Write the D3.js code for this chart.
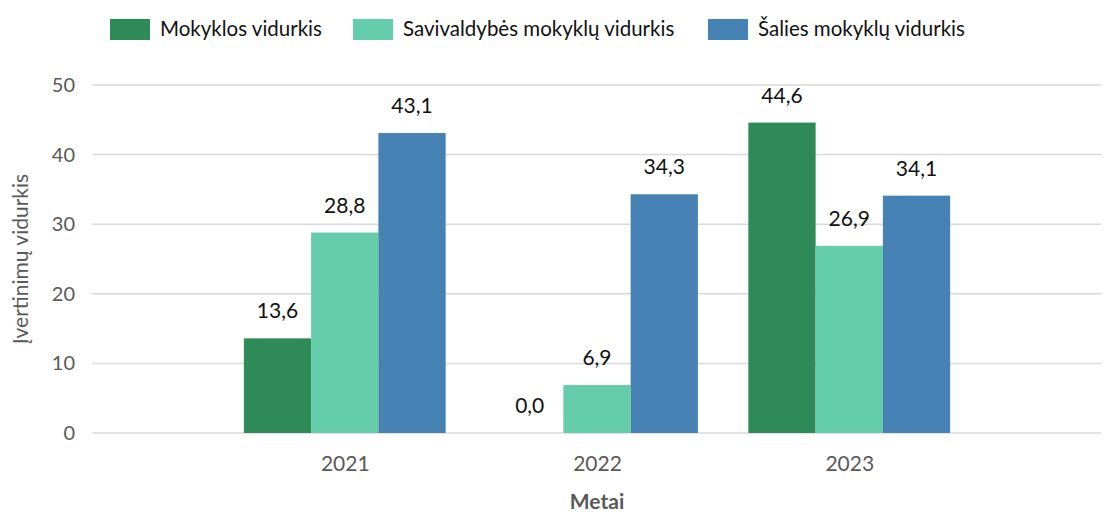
<!DOCTYPE html>
<html>
<head>
<meta charset="utf-8">
<script src="https://cdn.jsdelivr.net/npm/d3@7"></script>
<style>
  body { margin: 0; background: #fff; }
  text { font-family: Lato, "Open Sans", sans-serif; }
</style>
</head>
<body>
<script>
// ---------- data ----------
const years = ["2021", "2022", "2023"];
const seriesNames = ["Mokyklos vidurkis", "Savivaldybės mokyklų vidurkis", "Šalies mokyklų vidurkis"];
const mokyklos = [13.6, 0.0, 44.6];
const savivaldybes = [28.8, 6.9, 26.9];
const salies = [43.1, 34.3, 34.1];
const yTicks = [0, 10, 20, 30, 40, 50];

const colors = ["#2e8b57", "#66cdaa", "#4682b4"];
const allValues = [mokyklos, savivaldybes, salies];

// ---------- layout ----------
const width = 1104, height = 518;
const svg = d3.select("body").append("svg")
  .attr("width", width)
  .attr("height", height);

const plot = {left: 92.5, right: 1101.5, top: 85, bottom: 433};

const x = d3.scalePoint().domain(years).range([plot.left, plot.right]).padding(1);
const groupW = x.step() * 0.8;
const xInner = d3.scaleBand().domain(d3.range(seriesNames.length)).range([-groupW / 2, groupW / 2]);
const y = d3.scaleLinear().domain([0, 50]).range([plot.bottom, plot.top]);

// gridlines
svg.append("g")
  .selectAll("line")
  .data(yTicks).enter()
  .append("line")
  .attr("x1", plot.left)
  .attr("x2", plot.right)
  .attr("y1", d => y(d))
  .attr("y2", d => y(d))
  .attr("stroke", "#d9d9d9")
  .attr("stroke-width", 1.5);

// y axis labels
const yAxis = d3.axisLeft(y).tickValues(yTicks).tickSize(0).tickPadding(0);
svg.append("g")
  .attr("transform", `translate(75,0)`)
  .call(yAxis)
  .call(g => g.select(".domain").remove())
  .call(g => g.selectAll("text")
    .attr("font-family", "Lato, sans-serif")
    .attr("font-size", 20)
    .attr("fill", "#595959"));

// x axis labels
const xAxis = d3.axisBottom(x).tickSize(0).tickPadding(0);
svg.append("g")
  .attr("transform", `translate(0,${plot.bottom + 23})`)
  .call(xAxis)
  .call(g => g.select(".domain").remove())
  .call(g => g.selectAll("text")
    .attr("font-family", "Lato, sans-serif")
    .attr("font-size", 21)
    .attr("fill", "#595959"));

// bars
const rows = [];
years.forEach((yr, i) => {
  seriesNames.forEach((s, j) => rows.push({year: yr, s: j, v: allValues[j][i]}));
});

svg.append("g")
  .selectAll("rect")
  .data(rows).enter()
  .append("rect")
  .attr("x", d => x(d.year) + xInner(d.s))
  .attr("y", d => y(d.v))
  .attr("width", xInner.bandwidth())
  .attr("height", d => y(0) - y(d.v))
  .attr("fill", d => colors[d.s]);

// value labels
svg.append("g")
  .selectAll("text")
  .data(rows).enter()
  .append("text")
  .attr("x", d => x(d.year) + xInner(d.s) + xInner.bandwidth() / 2)
  .attr("y", d => y(d.v) - 20)
  .attr("text-anchor", "middle")
  .attr("font-size", 21)
  .attr("fill", "#111")
  .text(d => d.v.toFixed(1).replace(".", ","));

// axis titles
svg.append("text")
  .attr("transform", `translate(28,${(plot.top + plot.bottom) / 2}) rotate(-90)`)
  .attr("text-anchor", "middle")
  .attr("font-size", 21)
  .attr("fill", "#595959")
  .text("Įvertinimų vidurkis");

svg.append("text")
  .attr("x", x("2022"))
  .attr("y", 509)
  .attr("text-anchor", "middle")
  .attr("font-size", 21)
  .attr("font-weight", "bold")
  .attr("fill", "#595959")
  .text("Metai");

// legend
const legendX = [110, 353, 708];
const legend = svg.append("g")
  .selectAll("g")
  .data(seriesNames).enter()
  .append("g")
  .attr("transform", (d, i) => `translate(${legendX[i]},19)`);
legend.append("rect")
  .attr("width", 40)
  .attr("height", 21)
  .attr("fill", (d, i) => colors[i]);
legend.append("text")
  .attr("x", 50)
  .attr("y", 17)
  .attr("font-size", 20.5)
  .attr("fill", "#111")
  .text(d => d);
</script>
</body>
</html>
